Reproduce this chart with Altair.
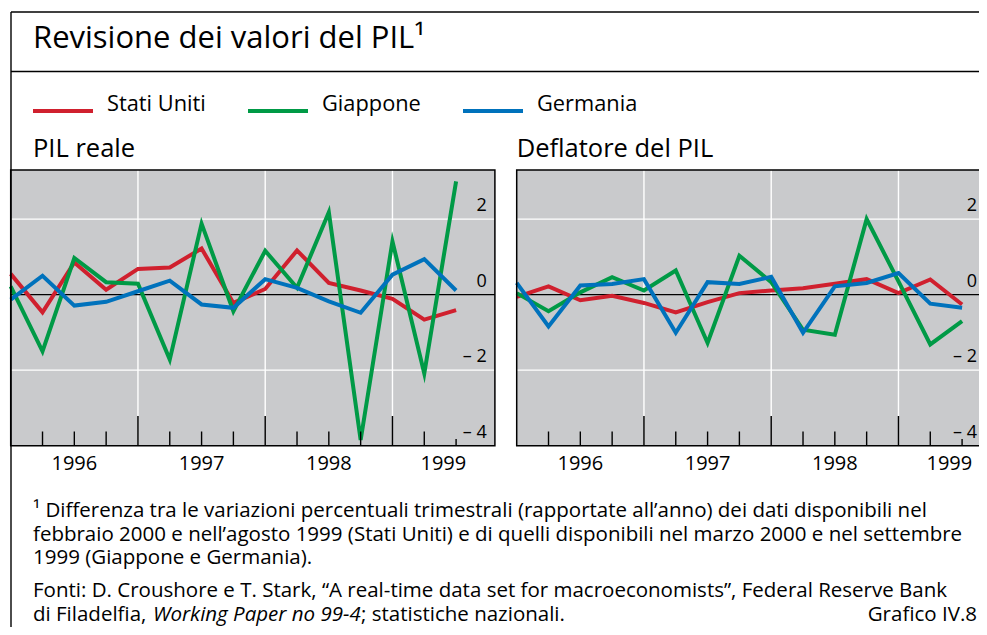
import altair as alt
import pandas as pd

FONT = "Open Sans"
GREY = "#c9cacc"

# ---------------- data ----------------
countries = ["Stati Uniti", "Giappone", "Germania"]
country_colors = ["#d0202e", "#009a46", "#0072bc"]
quarters = list(range(15))  # 1996 T1 ... 1999 T3

pil_stati_uniti = [0.55, -0.47, 0.85, 0.13, 0.68, 0.72, 1.22, -0.22, 0.15, 1.17, 0.31, 0.11, -0.11, -0.66, -0.41]
pil_giappone = [0.22, -1.50, 0.97, 0.33, 0.29, -1.72, 1.88, -0.44, 1.16, 0.18, 2.18, -3.85, 1.41, -2.09, 3.00]
pil_germania = [-0.13, 0.50, -0.29, -0.19, 0.09, 0.37, -0.26, -0.35, 0.41, 0.18, -0.18, -0.48, 0.53, 0.94, 0.11]

defl_stati_uniti = [-0.06, 0.22, -0.15, -0.03, -0.22, -0.47, -0.20, 0.04, 0.11, 0.17, 0.29, 0.41, 0.04, 0.40, -0.26]
defl_giappone = [0.04, -0.44, 0.06, 0.46, 0.11, 0.64, -1.28, 1.03, 0.33, -0.93, -1.06, 2.00, 0.35, -1.32, -0.70]
defl_germania = [0.31, -0.84, 0.24, 0.28, 0.41, -1.01, 0.33, 0.28, 0.47, -1.01, 0.22, 0.31, 0.57, -0.24, -0.35]

years = ["1996", "1997", "1998", "1999"]
year_label_pos = [2, 6, 10, 13.6]
year_starts = [4, 8, 12]
minor_ticks = [1, 2, 3, 5, 6, 7, 9, 10, 11, 13]
short_ticks = [14]
y_tick_values = [2, 0, -2, -4]
y_tick_labels = ["2", "0", "\u2013 2", "\u2013 4"]
grid_values = [2, -2]

title_text = "Revisione dei valori del PIL\u00b9"
panel_titles = ["PIL reale", "Deflatore del PIL"]
note_lines = [
    "\u00b9 Differenza tra le variazioni percentuali trimestrali (rapportate all\u2019anno) dei dati disponibili nel",
    "febbraio 2000 e nell\u2019agosto 1999 (Stati Uniti) e di quelli disponibili nel marzo 2000 e nel settembre",
    "1999 (Giappone e Germania).",
    "Fonti: D. Croushore e T. Stark, \u201cA real-time data set for macroeconomists\u201d, Federal Reserve Bank",
]
note_last = ["di Filadelfia,", "Working Paper no 99-4", "; statistiche nazionali."]
chart_number = "Grafico IV.8"

# ---------------- layout (pixels) ----------------
W, H = 971, 619
X_DOM = [0, 15.22]
Y_DOM = [-4, 3.3]
YTOP, YBOT = 162, 437.7
MINOR_TOP, MAJOR_TOP, SHORT_TOP = 423.5, 408, 431
YEAR_BASE = 462
LEFT = (2.7, 486.9)
RIGHT = (508.7, 992.9)
LEFT_LABEL_X = 478.7
RIGHT_LABEL_X = 969


def long_df(us, jp, de):
    rows = []
    for name, vals in zip(countries, [us, jp, de]):
        for q, v in zip(quarters, vals):
            rows.append({"q": q, "v": v, "paese": name})
    return pd.DataFrame(rows)


legend = alt.Legend(
    orient="none", legendX=23, legendY=71, direction="horizontal", title=None,
    symbolType="stroke", symbolStrokeWidth=4, symbolSize=3600,
    labelFontSize=21.8, labelFont=FONT, labelColor="black", labelOffset=12,
    labelBaseline="alphabetic",
    columnPadding=34, padding=0, labelLimit=400,
)


def panel(df, px, label_x):
    px0, px1 = px
    xs = alt.Scale(domain=X_DOM, range=[px0, px1], zero=False, nice=False)
    ys = alt.Scale(domain=Y_DOM, range=[YBOT, YTOP], zero=False, nice=False)
    box = pd.DataFrame({"x0": [X_DOM[0]], "x1": [X_DOM[1]], "y0": [Y_DOM[0]], "y1": [Y_DOM[1]]})

    bg = alt.Chart(box).mark_rect(fill=GREY).encode(
        x=alt.X("x0:Q", scale=xs, axis=None), x2="x1:Q",
        y=alt.Y("y0:Q", scale=ys, axis=None), y2="y1:Q")
    hgrid = alt.Chart(pd.DataFrame({"v": grid_values, "x0": X_DOM[0], "x1": X_DOM[1]})).mark_rule(
        color="white", strokeWidth=1.4).encode(
        y=alt.Y("v:Q", scale=ys, axis=None), x=alt.X("x0:Q", scale=xs, axis=None), x2="x1:Q")
    vgrid = alt.Chart(pd.DataFrame({"q": year_starts})).mark_rule(color="white", strokeWidth=1.4).encode(
        x=alt.X("q:Q", scale=xs, axis=None), y=alt.value(YTOP), y2=alt.value(MAJOR_TOP))
    zero = alt.Chart(pd.DataFrame({"v": [0], "x0": X_DOM[0], "x1": X_DOM[1]})).mark_rule(
        color="black", strokeWidth=1.3).encode(
        y=alt.Y("v:Q", scale=ys, axis=None), x=alt.X("x0:Q", scale=xs, axis=None), x2="x1:Q")
    lines = alt.Chart(df).mark_line(strokeWidth=4, strokeJoin="miter", strokeMiterLimit=6).encode(
        x=alt.X("q:Q", scale=xs, axis=None),
        y=alt.Y("v:Q", scale=ys, axis=None),
        color=alt.Color("paese:N", scale=alt.Scale(domain=countries, range=country_colors), legend=legend),
    )
    border = alt.Chart(box).mark_rect(fillOpacity=0, stroke="black", strokeWidth=1.5).encode(
        x=alt.X("x0:Q", scale=xs, axis=None), x2="x1:Q",
        y=alt.Y("y0:Q", scale=ys, axis=None), y2="y1:Q")

    def ticks(qs, top):
        return alt.Chart(pd.DataFrame({"q": qs})).mark_rule(color="black", strokeWidth=1.4).encode(
            x=alt.X("q:Q", scale=xs, axis=None), y=alt.value(top), y2=alt.value(YBOT))

    ylab = alt.Chart(pd.DataFrame({"v": y_tick_values, "t": y_tick_labels})).mark_text(
        align="right", baseline="alphabetic", dy=-8, fontSize=18, font=FONT, color="black").encode(
        y=alt.Y("v:Q", scale=ys, axis=None), x=alt.value(label_x), text="t:N")
    xlab = alt.Chart(pd.DataFrame({"q": year_label_pos, "t": years})).mark_text(
        align="center", baseline="alphabetic", fontSize=20, font=FONT, color="black").encode(
        x=alt.X("q:Q", scale=xs, axis=None), y=alt.value(YEAR_BASE), text="t:N")

    return alt.layer(bg, hgrid, vgrid, zero, lines, border,
                     ticks(minor_ticks, MINOR_TOP), ticks(year_starts, MAJOR_TOP),
                     ticks(short_ticks, SHORT_TOP), ylab, xlab)


def txt(s, x, y, size, align="left", style="normal"):
    return alt.Chart(pd.DataFrame({"t": [s]})).mark_text(
        align=align, baseline="alphabetic", fontSize=size, font=FONT, color="black", fontStyle=style
    ).encode(x=alt.value(x), y=alt.value(y), text="t:N")


def hline(y, x0, x1, w=1.4):
    return alt.Chart(pd.DataFrame({"a": [0]})).mark_rule(color="black", strokeWidth=w).encode(
        x=alt.value(x0), x2=alt.value(x1), y=alt.value(y))


def vline(x, y0, y1, w=1.4):
    return alt.Chart(pd.DataFrame({"a": [0]})).mark_rule(color="black", strokeWidth=w).encode(
        x=alt.value(x), y=alt.value(y0), y2=alt.value(y1))


left = panel(long_df(pil_stati_uniti, pil_giappone, pil_germania), LEFT, LEFT_LABEL_X)
right = panel(long_df(defl_stati_uniti, defl_giappone, defl_germania), RIGHT, RIGHT_LABEL_X)

NOTE_SIZE = 20.5
deco = [
    vline(3, 4, H), hline(4, 3, W), hline(63.5, 3, W),
    txt(title_text, 25, 40, 31),
    txt(panel_titles[0], 25, 149, 25.5),
    txt(panel_titles[1], 508.7, 149, 25.5),
]
note_base = [509, 533, 556, 589]
for line, yb in zip(note_lines, note_base):
    deco.append(txt(line, 25, yb, NOTE_SIZE))
deco += [
    txt(note_last[0], 25, 613, NOTE_SIZE),
    txt(note_last[1], 145, 613, NOTE_SIZE, style="italic"),
    txt(note_last[2], 353, 613, NOTE_SIZE),
    txt(chart_number, 969, 613, NOTE_SIZE, align="right"),
]

chart = alt.layer(left, right, *deco).resolve_scale(x="independent", y="independent").properties(
    width=W, height=H, autosize=alt.AutoSizeParams(type="none"), padding=0,
    background="white",
).configure_view(strokeWidth=0)

chart.save("out.html", embed_options={"renderer": "svg", "actions": False})
